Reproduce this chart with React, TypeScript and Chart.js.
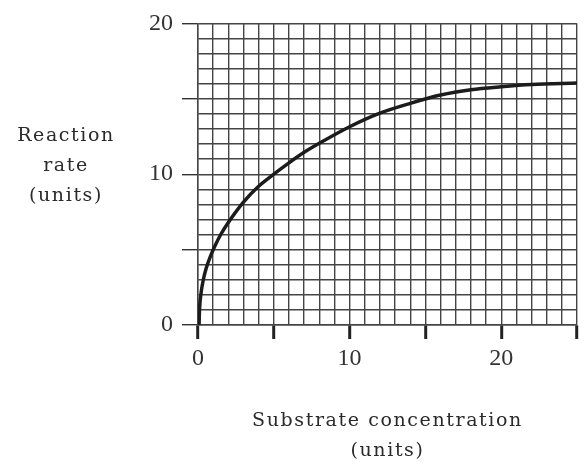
import React, { useEffect, useRef } from "react";
import { Chart, registerables } from "chart.js";

Chart.register(...registerables);

// Substrate concentration (units) and reaction rate (units)
const substrate = [0.07, 0.1, 0.2, 0.35, 0.55, 0.8, 1.1, 1.5, 2, 3, 4, 5, 6, 7, 8, 10, 12, 14, 16, 18, 20, 22, 25];
const rate = [0, 1.0, 2.1, 3.0, 3.8, 4.5, 5.2, 6.0, 6.8, 8.15, 9.2, 10.0, 10.75, 11.45, 12.05, 13.15, 14.05, 14.7, 15.25, 15.6, 15.8, 15.95, 16.05];

const xLabeled = [0, 10, 20];
const yLabeled = [0, 10, 20];
const xTitle = ["Substrate concentration", "(units)"];
const yTitle = ["Reaction", "rate", "(units)"];

const TITLE_FONT = '19px "DejaVu Serif"';
const TICK_FONT_FAMILY = "Liberation Serif";

const titlePlugin = {
  id: "customTitles",
  afterDraw(chart: any) {
    const { ctx, chartArea } = chart;
    ctx.save();
    ctx.fillStyle = "#2a2a2a";
    ctx.font = TITLE_FONT;
    ctx.textAlign = "center";
    ctx.textBaseline = "middle";
    try {
      (ctx as any).letterSpacing = "1.6px";
    } catch (e) {}
    const yCx = chartArea.left - 132;
    yTitle.forEach((t, i) => {
      ctx.fillText(t, yCx, chartArea.top + 113 + i * 30);
    });
    const xCx = (chartArea.left + chartArea.right) / 2;
    xTitle.forEach((t, i) => {
      ctx.fillText(t, xCx, chartArea.bottom + 96 + i * 30);
    });
    ctx.restore();
  },
};

export default function App() {
  const ref = useRef<HTMLCanvasElement | null>(null);

  useEffect(() => {
    if (!ref.current) return;
    const chart = new Chart(ref.current, {
      type: "line",
      data: {
        datasets: [
          {
            data: substrate.map((x, i) => ({ x, y: rate[i] })),
            borderColor: "#1c1c1c",
            borderWidth: 3.5,
            pointRadius: 0,
            cubicInterpolationMode: "monotone",
            fill: false,
          },
        ],
      },
      options: {
        responsive: false,
        animation: false,
        devicePixelRatio: 1,
        layout: { padding: { top: 20, right: 8, left: 0, bottom: 0 } },
        plugins: {
          legend: { display: false },
          tooltip: { enabled: false },
        },
        scales: {
          x: {
            type: "linear",
            min: 0,
            max: 25,
            afterFit: (s: any) => {
              s.height = 140;
            },
            ticks: {
              stepSize: 1,
              autoSkip: false,
              maxRotation: 0,
              padding: 5,
              color: "#333",
              font: { family: TICK_FONT_FAMILY, size: 24 },
              callback: (v: any) => (xLabeled.includes(Number(v)) ? String(v) : ""),
            },
            grid: {
              color: "#444",
              lineWidth: 1.4,
              tickLength: 14,
              tickColor: "#222",
              tickWidth: (c: any) => (c.tick && c.tick.value % 5 === 0 ? 3 : 0),
            },
            border: { display: true, color: "#444", width: 1.4 },
          },
          y: {
            type: "linear",
            min: 0,
            max: 20,
            afterFit: (s: any) => {
              s.width = 198;
            },
            ticks: {
              stepSize: 1,
              autoSkip: false,
              padding: 9,
              color: "#333",
              font: { family: TICK_FONT_FAMILY, size: 24 },
              callback: (v: any) => (yLabeled.includes(Number(v)) ? String(v) : ""),
            },
            grid: {
              color: "#444",
              lineWidth: 1.4,
              tickLength: 16,
              tickColor: "#333",
              tickWidth: (c: any) => (c.tick && c.tick.value % 5 === 0 ? 1.4 : 0),
            },
            border: { display: true, color: "#444", width: 1.4 },
          },
        },
      } as any,
      plugins: [titlePlugin],
    });
    return () => chart.destroy();
  }, []);

  return (
    <div style={{ position: "absolute", left: 0, top: 0, width: 585, height: 465, background: "#fff" }}>
      <canvas ref={ref} width={585} height={465} style={{ display: "block" }} />
    </div>
  );
}
